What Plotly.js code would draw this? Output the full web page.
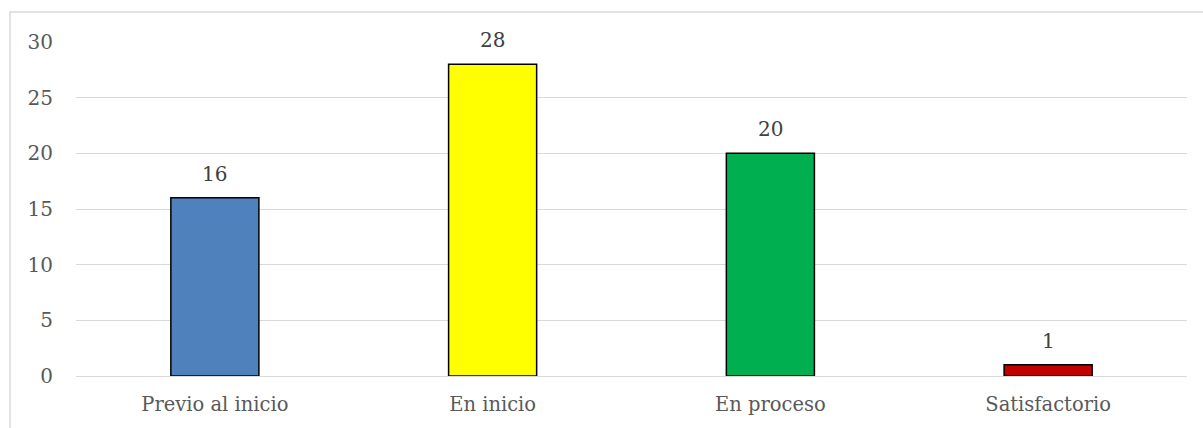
<!DOCTYPE html>
<html><head><meta charset="utf-8">
<script src="https://cdn.plot.ly/plotly-3.0.1.min.js"></script>
<style>html,body{margin:0;padding:0;background:#fff}#c{width:1203px;height:428px}</style>
</head><body><div id="c"></div>
<script>
const categories = ["Previo al inicio", "En inicio", "En proceso", "Satisfactorio"];
const values = [16, 28, 20, 1];
const barColors = ["#4F81BD", "#FFFF00", "#00B050", "#C00000"];
const yTicks = [0, 5, 10, 15, 20, 25, 30];

const fontFam = "DejaVu Serif, Liberation Serif, serif";
const trace = {
  type: "bar",
  x: categories,
  y: values,
  marker: {color: barColors, line: {color: "#000000", width: 1.5}},
  hoverinfo: "none"
};
const annotations = categories.map((c, i) => ({
  x: c, y: values[i], xref: "x", yref: "y",
  text: String(values[i]), showarrow: false,
  yanchor: "bottom", yshift: 10,
  font: {family: fontFam, size: 20, color: "#404040"}
}));
const layout = {
  width: 1203, height: 428,
  margin: {l: 76, r: 16, t: 42, b: 52},
  paper_bgcolor: "#fff", plot_bgcolor: "#fff",
  bargap: 0.683,
  showlegend: false,
  annotations: annotations,
  xaxis: {
    type: "category",
    tickfont: {family: fontFam, size: 19.5, color: "#595959"},
    showgrid: false, showline: false, zeroline: false,
    ticks: "", ticklabelstandoff: 14
  },
  yaxis: {
    range: [0, 30],
    tickvals: yTicks,
    tickfont: {family: fontFam, size: 20, color: "#595959"},
    showgrid: true, gridcolor: "#D9D9D9", gridwidth: 1,
    zeroline: true, zerolinecolor: "#D9D9D9", zerolinewidth: 1,
    showline: false, ticks: "", ticklabelstandoff: 22
  },
  shapes: [{
    type: "rect", xref: "paper", yref: "paper", layer: "below",
    x0: -0.0594, x1: 1.03, y0: -0.3, y1: 1.0898,
    line: {color: "#D9D9D9", width: 1.5}, fillcolor: "rgba(0,0,0,0)"
  }]
};
Plotly.newPlot("c", [trace], layout, {staticPlot: true});
</script></body></html>
